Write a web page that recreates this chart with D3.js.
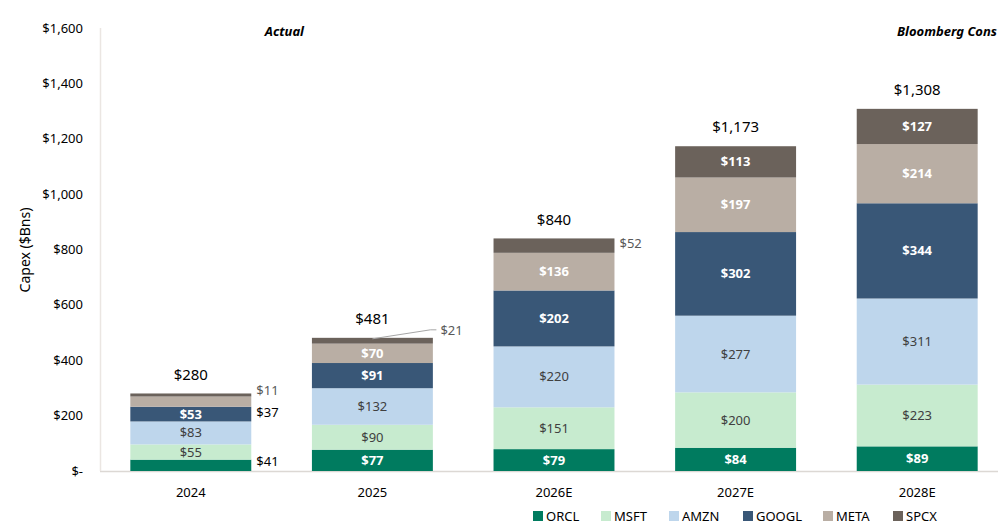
<!DOCTYPE html>
<html><head><meta charset="utf-8">
<script src="https://cdn.jsdelivr.net/npm/d3@7"></script>
<style>body{margin:0;background:#fff;}svg{display:block;font-family:"Noto Sans",sans-serif;}</style>
</head><body>
<svg id="c" width="998" height="532"></svg>
<script>
const categories = ["2024","2025","2026E","2027E","2028E"];
const seriesNames = ["ORCL","MSFT","AMZN","GOOGL","META","SPCX"];
const ORCL  = [41, 77, 79, 84, 89];
const MSFT  = [55, 90, 151, 200, 223];
const AMZN  = [83, 132, 220, 277, 311];
const GOOGL = [53, 91, 202, 302, 344];
const META  = [37, 70, 136, 197, 214];
const SPCX  = [11, 21, 52, 113, 127];
const totals = [280, 481, 840, 1173, 1308];
const yTicks = [0, 200, 400, 600, 800, 1000, 1200, 1400, 1600];

const colors = {ORCL:"#007b5f", MSFT:"#c7ebcf", AMZN:"#bed6ec", GOOGL:"#395777", META:"#b9aea4", SPCX:"#6b625b"};
const labelStyle = {ORCL:["#fff",700], MSFT:["#404040",400], AMZN:["#404040",400], GOOGL:["#fff",700], META:["#fff",700], SPCX:["#fff",700]};
const seriesData = {ORCL, MSFT, AMZN, GOOGL, META, SPCX};

const rows = categories.map((c,i)=>{const r={cat:c}; seriesNames.forEach(s=>r[s]=seriesData[s][i]); return r;});
const stack = d3.stack().keys(seriesNames)(rows);

const svg = d3.select("#c");
const x = d3.scaleBand().domain(categories).range([100, 1008]).paddingInner(0.334).paddingOuter(0.167);
const y = d3.scaleLinear().domain([0,1600]).range([471, 28]);

// axes lines
svg.append("line").attr("x1",100).attr("x2",998).attr("y1",y(0)+0.5).attr("y2",y(0)+0.5).attr("stroke","#dcd8d4").attr("stroke-width",1.5);
svg.append("line").attr("x1",100.5).attr("x2",100.5).attr("y1",y(1600)).attr("y2",y(0)).attr("stroke","#ebe6e2").attr("stroke-width",1.5);

// y tick labels
const fmt = v => v===0 ? "$-" : "$" + d3.format(",")(v);
svg.append("g").selectAll("text").data(yTicks).join("text")
  .attr("x",83).attr("y",d=>y(d)).attr("dy","0.35em").attr("text-anchor","end")
  .attr("font-size",13).attr("fill","#000").text(fmt);

svg.append("text").attr("transform","translate(30,250) rotate(-90)").attr("text-anchor","middle")
  .attr("font-size",14).attr("fill","#000").text("Capex ($Bns)");

// x labels
svg.append("g").selectAll("text").data(categories).join("text")
  .attr("x",d=>x(d)+x.bandwidth()/2).attr("y",492).attr("dy","0.35em").attr("text-anchor","middle")
  .attr("font-size",13).attr("fill","#000").text(d=>d);

// bars
const g = svg.append("g");
stack.forEach(layer=>{
  const key = layer.key;
  g.append("g").selectAll("rect").data(layer).join("rect")
    .attr("x",d=>x(d.data.cat)).attr("width",x.bandwidth())
    .attr("y",d=>y(d[1])).attr("height",d=>y(d[0])-y(d[1]))
    .attr("fill",colors[key]);
});

// inside labels
const outside = {"ORCL|2024":[1,"#000"], "META|2024":[1,"#000"], "SPCX|2024":[1,"#595959"], "SPCX|2025":[2,"#595959"], "SPCX|2026E":[1,"#595959"]};
stack.forEach(layer=>{
  const key = layer.key;
  layer.forEach(d=>{
    const k = key+"|"+d.data.cat;
    const v = d[1]-d[0];
    const cy = (y(d[0])+y(d[1]))/2;
    if (outside[k]) {
      const [mode,col] = outside[k];
      if (mode===1) {
        let ty = cy;
        if (k==="ORCL|2024") ty = 461;
        if (k==="META|2024") ty = 412;
        if (k==="SPCX|2024") ty = 390;
        if (k==="SPCX|2026E") ty = 243;
        svg.append("text").attr("x",x(d.data.cat)+x.bandwidth()+5).attr("y",ty).attr("dy","0.35em")
          .attr("font-size",13).attr("fill",col).text("$"+v);
      } else {
        const bx = x(d.data.cat)+x.bandwidth()/2, by = y(d[1])+1;
        svg.append("polyline").attr("points",`${bx},${by} ${bx+58},${by-9} ${bx+64},${by-9}`)
          .attr("fill","none").attr("stroke","#a6a6a6").attr("stroke-width",1);
        svg.append("text").attr("x",bx+68).attr("y",by-8).attr("dy","0.35em")
          .attr("font-size",13).attr("fill",col).text("$"+v);
      }
    } else {
      const [col,w] = labelStyle[key];
      svg.append("text").attr("x",x(d.data.cat)+x.bandwidth()/2).attr("y",cy).attr("dy","0.35em")
        .attr("text-anchor","middle").attr("font-size",13).attr("font-weight",w).attr("fill",col).text("$"+v);
    }
  });
});

// totals
svg.append("g").selectAll("text").data(categories).join("text")
  .attr("x",d=>x(d)+x.bandwidth()/2).attr("y",(d,i)=>y(totals[i])-19).attr("dy","0.35em")
  .attr("text-anchor","middle").attr("font-size",15).attr("fill","#000")
  .text((d,i)=>"$"+d3.format(",")(totals[i]));

// headers
svg.append("text").attr("x",304).attr("y",31).attr("dy","0.35em").attr("text-anchor","end")
  .attr("font-size",13).attr("font-weight",700).attr("font-style","italic").text("Actual");
svg.append("text").attr("x",997).attr("y",31).attr("dy","0.35em").attr("text-anchor","end")
  .attr("font-size",13).attr("font-weight",700).attr("font-style","italic").text("Bloomberg Cons");

// legend
const legX = [533, 601, 669, 743, 823, 893];
const leg = svg.append("g").selectAll("g").data(seriesNames).join("g")
  .attr("transform",(d,i)=>`translate(${legX[i]},516)`);
leg.append("rect").attr("x",0).attr("y",-5).attr("width",10).attr("height",10).attr("fill",d=>colors[d]);
leg.append("text").attr("x",13).attr("y",0).attr("dy","0.35em").attr("font-size",13).attr("fill","#000").text(d=>d);
</script>
</body></html>
